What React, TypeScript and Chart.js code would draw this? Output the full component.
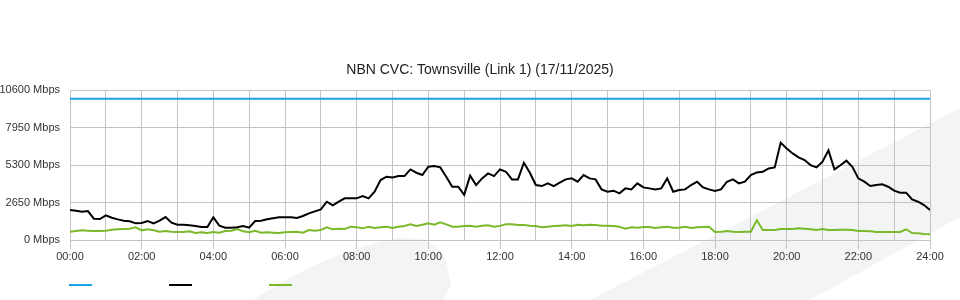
import React, { useEffect, useRef } from "react";
import { Chart, registerables } from "chart.js";

Chart.register(...registerables);

const TITLE = "NBN CVC: Townsville (Link 1) (17/11/2025)";
const SAMPLE_MINUTES = 10;
const xTickLabels = ["00:00", "02:00", "04:00", "06:00", "08:00", "10:00", "12:00", "14:00", "16:00", "18:00", "20:00", "22:00", "24:00"];
const yTicks = [0, 2650, 5300, 7950, 10600];
const capacityMbps = 10000;

// 10-minute samples, 00:00 .. 24:00
const downloadMbps = [
  2124, 2077, 2006, 2053, 1510, 1487,
  1746, 1581, 1463, 1369, 1322, 1180,
  1204, 1345, 1180, 1369, 1628, 1227,
  1086, 1086, 1038, 991, 920, 920,
  1605, 1015, 873, 873, 897, 991,
  873, 1345, 1369, 1463, 1534, 1605,
  1620, 1605, 1558, 1700, 1888, 2030,
  2171, 2714, 2454, 2714, 2950, 2950,
  2950, 3115, 2950, 3422, 4248, 4484,
  4437, 4531, 4531, 5003, 4767, 4602,
  5192, 5239, 5145, 4484, 3776, 3776,
  3200, 4555, 3894, 4366, 4720, 4531,
  5000, 4838, 4295, 4295, 5475, 4767,
  3894, 3823, 4012, 3823, 4059, 4295,
  4366, 4130, 4602, 4366, 4295, 3587,
  3422, 3493, 3304, 3658, 3587, 4012,
  3729, 3658, 3587, 3658, 4366, 3422,
  3540, 3587, 3894, 4130, 3729, 3587,
  3469, 3587, 4130, 4295, 4012, 4130,
  4602, 4790, 4838, 5074, 5145, 6900,
  6490, 6136, 5853, 5664, 5310, 5145,
  5546, 6350, 5000, 5300, 5620, 5192,
  4366, 4130, 3823, 3894, 3941, 3776,
  3493, 3351, 3351, 2879, 2714, 2478,
  2124,
];

const uploadMbps = [
  590, 637, 684, 660, 637, 637,
  660, 731, 755, 779, 802, 900,
  684, 755, 684, 590, 637, 590,
  566, 566, 613, 495, 543, 495,
  566, 519, 637, 660, 779, 613,
  543, 650, 519, 543, 519, 495,
  543, 566, 590, 519, 708, 660,
  708, 897, 755, 802, 779, 944,
  897, 826, 944, 850, 897, 944,
  850, 944, 991, 1109, 991, 1086,
  1180, 1086, 1251, 1109, 944, 944,
  991, 1015, 944, 1015, 1038, 944,
  1000, 1109, 1109, 1062, 1062, 1015,
  991, 897, 944, 991, 1015, 1038,
  991, 1086, 1038, 1086, 1062, 1015,
  1015, 991, 944, 802, 897, 873,
  920, 920, 850, 897, 944, 873,
  873, 944, 850, 897, 920, 944,
  560, 590, 637, 590, 566, 590,
  590, 1400, 708, 708, 708, 779,
  779, 779, 826, 802, 755, 708,
  779, 708, 708, 731, 731, 708,
  637, 637, 613, 566, 566, 566,
  566, 566, 760, 495, 472, 425,
  401,
];

const FONT = "'Liberation Sans', Arial, Helvetica, sans-serif";
const GRID = "#c4c4c4";
const BLUE = "#18a4e8";
const BLACK = "#000000";
const GREEN = "#7ab929";
const WATERMARK = "#f3f4f6";

const toPoints = (arr: number[]) => arr.map((v, i) => ({ x: (i * SAMPLE_MINUTES) / 60, y: v }));

const watermarkPlugin = {
  id: "watermark",
  beforeDraw(chart: any) {
    const ctx = chart.ctx as CanvasRenderingContext2D;
    ctx.save();
    ctx.fillStyle = WATERMARK;
    ctx.beginPath();
    ctx.moveTo(590, 300);
    ctx.lineTo(960, 108);
    ctx.lineTo(960, 217);
    ctx.lineTo(810, 300);
    ctx.closePath();
    ctx.fill();
    ctx.beginPath();
    ctx.moveTo(253, 300);
    ctx.quadraticCurveTo(330, 250, 398, 238);
    ctx.quadraticCurveTo(438, 236, 446, 262);
    ctx.lineTo(451, 284);
    ctx.lineTo(443, 300);
    ctx.closePath();
    ctx.fill();
    ctx.restore();
  },
};

export default function App() {
  const ref = useRef<HTMLCanvasElement | null>(null);

  useEffect(() => {
    document.body.style.margin = "0";
    if (!ref.current) return;
    const chart = new Chart(ref.current, {
      type: "line",
      data: {
        datasets: [
          {
            label: "Capacity",
            data: [
              { x: 0, y: capacityMbps },
              { x: 24, y: capacityMbps },
            ],
            borderColor: BLUE,
            backgroundColor: BLUE,
            borderWidth: 2,
            pointRadius: 0,
          },
          {
            label: "Download",
            data: toPoints(downloadMbps),
            borderColor: BLACK,
            backgroundColor: BLACK,
            borderWidth: 2,
            pointRadius: 0,
          },
          {
            label: "Upload",
            data: toPoints(uploadMbps),
            borderColor: GREEN,
            backgroundColor: GREEN,
            borderWidth: 2,
            pointRadius: 0,
          },
        ],
      },
      options: {
        animation: false,
        responsive: false,
        devicePixelRatio: 1,
        layout: { padding: { left: 0, right: 0, top: 0, bottom: 35.8 } },
        plugins: {
          legend: { display: false },
          tooltip: { enabled: false },
          title: {
            display: true,
            text: TITLE,
            color: "#222222",
            font: { family: FONT, size: 14, weight: "normal" },
            padding: { top: 61.6, bottom: 12 },
          },
        },
        scales: {
          x: {
            type: "linear",
            min: 0,
            max: 24,
            ticks: {
              stepSize: 1,
              autoSkip: false,
              maxRotation: 0,
              padding: 1,
              color: "#333333",
              font: { family: FONT, size: 11 },
              callback: (v: any) => {
                const h = Number(v);
                return h % 2 === 0 ? xTickLabels[h / 2] : "";
              },
            },
            grid: {
              color: GRID,
              tickLength: 9,
              tickColor: (ctx: any) =>
                ctx.tick && Number(ctx.tick.value) % 2 === 0 ? GRID : "rgba(0,0,0,0)",
            },
            border: { color: GRID },
          },
          y: {
            min: 0,
            max: 10600,
            afterBuildTicks: (s: any) => {
              s.ticks = yTicks.map((v) => ({ value: v }));
            },
            afterFit: (s: any) => {
              s.width = 70;
            },
            ticks: {
              padding: 10,
              color: "#333333",
              font: { family: FONT, size: 11 },
              callback: (v: any) => `${v} Mbps`,
            },
            grid: { color: GRID, drawTicks: false },
            border: { color: GRID },
          },
          yRight: {
            position: "right",
            display: true,
            ticks: { display: false },
            grid: { display: false, drawTicks: false },
            border: { display: false },
            afterFit: (s: any) => {
              s.width = 30;
            },
          },
        },
      } as any,
      plugins: [watermarkPlugin],
    });
    return () => chart.destroy();
  }, []);

  const legendItems = [
    { color: BLUE, left: 69 },
    { color: BLACK, left: 169 },
    { color: GREEN, left: 269 },
  ];

  return (
    <div style={{ position: "relative", width: 960, height: 300, background: "#ffffff" }}>
      <canvas ref={ref} width={960} height={300} style={{ display: "block", width: 960, height: 300 }} />
      {legendItems.map((it, i) => (
        <div
          key={i}
          style={{
            position: "absolute",
            left: it.left,
            top: 284,
            width: 23,
            height: 2,
            background: it.color,
          }}
        />
      ))}
    </div>
  );
}
